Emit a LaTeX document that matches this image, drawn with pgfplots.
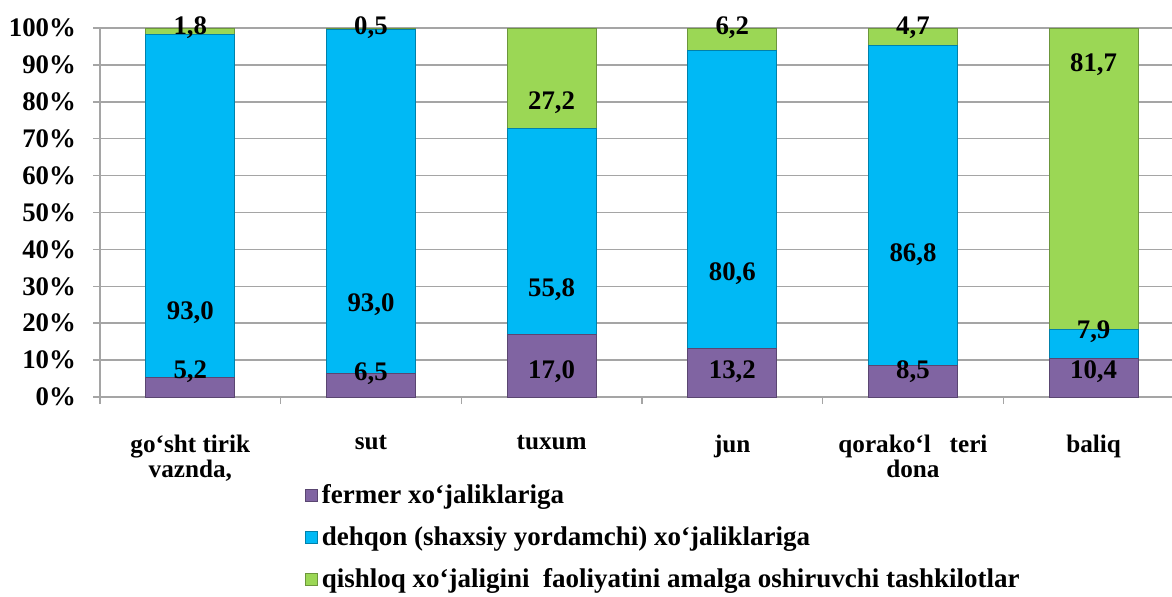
\documentclass[border=0pt]{standalone}
\usepackage{fontspec}
\setmainfont{Liberation Serif}
\usepackage{pgfplots}
\usepackage{pgfplotstable}
\pgfplotsset{compat=1.18}
\definecolor{cPurple}{RGB}{128,100,162}
\definecolor{cCyan}{RGB}{0,185,245}
\definecolor{cGreen}{RGB}{155,215,85}
\definecolor{cGrid}{RGB}{165,165,165}

\pgfplotstableread{
x fermer dehqon qishloq
0 5.2 93.0 1.8
1 6.5 93.0 0.5
2 17.0 55.8 27.2
3 13.2 80.6 6.2
4 8.5 86.8 4.7
5 10.4 7.9 81.7
}\bars

\pgfplotstableread{
x y lab
0 100 1,8
0 22.8 93,0
0 6.8 5,2
1 100 0,5
1 25 93,0
1 6.2 6,5
2 79.7 27,2
2 29 55,8
2 6.8 17,0
3 100 6,2
3 33.3 80,6
3 6.8 13,2
4 100 4,7
4 38.5 86,8
4 6.8 8,5
5 90 81,7
5 17.6 7,9
5 7 10,4
}\labs

\pgfplotsset{base/.style={scale only axis, width=536pt, height=184.5pt,
  at={(50pt,99.5pt)}, anchor=south west,
  xmin=-0.5, xmax=5.434, ymin=0, ymax=100}}

\begin{document}
\begin{tikzpicture}
\begin{axis}[base, ybar stacked, bar width=44.5pt,
  axis x line*=bottom, axis y line*=left,
  axis line style={cGrid, line width=0.75pt},
  ymajorgrids, grid style={cGrid, line width=0.75pt},
  tick align=outside,
  ytick={0,10,20,30,40,50,60,70,80,90,100},
  yticklabels={0\%,10\%,20\%,30\%,40\%,50\%,60\%,70\%,80\%,90\%,100\%},
  yticklabel style={font=\fontsize{13.4}{15}\selectfont\bfseries, xshift=-5pt},
  major tick length=3.5pt, minor tick length=3.5pt,
  tick style={cGrid, line width=0.75pt},
  xtick={0,1,2,3,4,5},
  major x tick style={draw=none},
  minor xtick={-0.5,0.5,1.5,2.5,3.5,4.5,5.5},
  xticklabels={{go‘sht tirik\\vaznda,}, sut, tuxum, jun, {qorako‘l\ \ \ teri\\dona}, baliq},
  xticklabel style={align=center, font=\fontsize{12.6}{12.6}\selectfont\bfseries, yshift=-12pt},
  legend style={at={(0.191,-0.2304)}, anchor=north west, draw=none, fill=none,
    font=\fontsize{13.5}{15}\selectfont\bfseries, row sep=8pt, inner sep=0pt,
    nodes={inner ysep=1pt}},
  legend cell align=left,
  legend image code/.code={\fill[#1] (0pt,-3pt) rectangle (6pt,3pt);},
]
\addplot[fill=cPurple, draw=cPurple!70!black] table[x=x,y=fermer]{\bars};
\addplot[fill=cCyan, draw=cCyan!70!black] table[x=x,y=dehqon]{\bars};
\addplot[fill=cGreen, draw=cGreen!70!black] table[x=x,y=qishloq]{\bars};
\legend{fermer xo‘jaliklariga, dehqon (shaxsiy yordamchi) xo‘jaliklariga, qishloq xo‘jaligini\ \ faoliyatini amalga oshiruvchi tashkilotlar}
\end{axis}
\begin{axis}[base, hide axis, clip=false,
  nodes near coords, point meta=explicit symbolic,
  nodes near coords style={anchor=center, font=\fontsize{13.4}{15}\selectfont\bfseries, text=black}]
\addplot[draw=none, mark=none] table[x=x,y=y,meta=lab]{\labs};
\end{axis}
\pgfresetboundingbox
\path[use as bounding box] (0,0) rectangle (586pt,298pt);
\end{tikzpicture}
\end{document}
